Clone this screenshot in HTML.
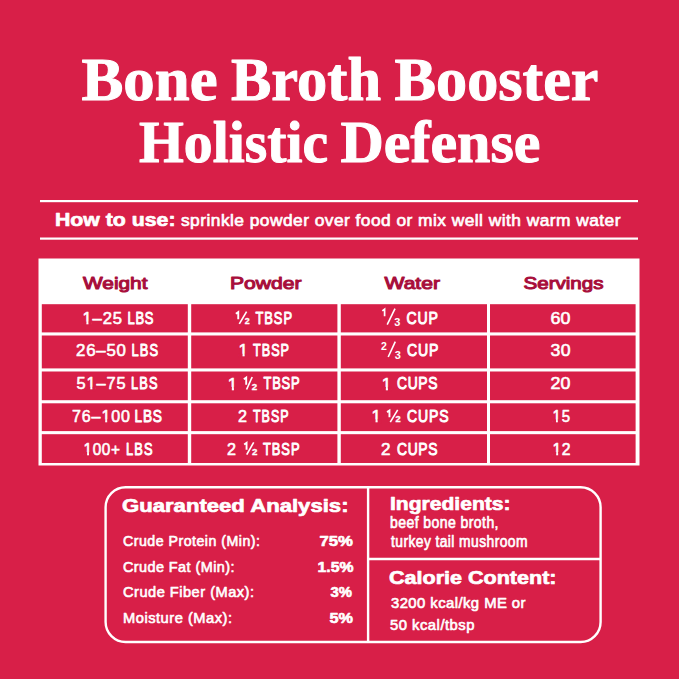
<!DOCTYPE html>
<html>
<head>
<meta charset="utf-8">
<style>
html,body{margin:0;padding:0;background:#D81F48;width:679px;height:679px;overflow:hidden}
svg{display:block}
</style>
</head>
<body>
<svg width="679" height="679" viewBox="0 0 679 679">
<rect width="679" height="679" fill="#D81F48"/>
<rect x="40" y="200" width="598" height="2.2" fill="#fff"/>
<rect x="40" y="237.5" width="598" height="2.2" fill="#fff"/>
<rect x="38.5" y="258.5" width="601" height="207" fill="#fff"/>
<g fill="#D81F48">
<rect x="41.8" y="304.2" width="146" height="28.2"/>
<rect x="191.2" y="304.2" width="146.2" height="28.2"/>
<rect x="340.8" y="304.2" width="146.2" height="28.2"/>
<rect x="490" y="304.2" width="145.6" height="28.2"/>
<rect x="41.8" y="335.5" width="146" height="32.9"/>
<rect x="191.2" y="335.5" width="146.2" height="32.9"/>
<rect x="340.8" y="335.5" width="146.2" height="32.9"/>
<rect x="490" y="335.5" width="145.6" height="32.9"/>
<rect x="41.8" y="371.5" width="146" height="28.7"/>
<rect x="191.2" y="371.5" width="146.2" height="28.7"/>
<rect x="340.8" y="371.5" width="146.2" height="28.7"/>
<rect x="490" y="371.5" width="145.6" height="28.7"/>
<rect x="41.8" y="403.3" width="146" height="27.8"/>
<rect x="191.2" y="403.3" width="146.2" height="27.8"/>
<rect x="340.8" y="403.3" width="146.2" height="27.8"/>
<rect x="490" y="403.3" width="145.6" height="27.8"/>
<rect x="41.8" y="434.2" width="146" height="28.8"/>
<rect x="191.2" y="434.2" width="146.2" height="28.8"/>
<rect x="340.8" y="434.2" width="146.2" height="28.8"/>
<rect x="490" y="434.2" width="145.6" height="28.8"/>
</g>
<g fill="none" stroke="#fff" stroke-width="2.4">
<rect x="105.6" y="487.3" width="495" height="154.7" rx="20" ry="20"/>
<line x1="368.1" y1="487.3" x2="368.1" y2="642"/>
<line x1="368.1" y1="559" x2="600.6" y2="559"/>
</g>
<text x="149.50" y="100.3" text-anchor="middle" font-family='"Liberation Serif",serif' font-weight="bold" font-size="61" fill="#fff" stroke="#fff" stroke-width="1.0" stroke-linejoin="round" textLength="136.00" lengthAdjust="spacingAndGlyphs">Bone</text>
<text x="306.00" y="100.3" text-anchor="middle" font-family='"Liberation Serif",serif' font-weight="bold" font-size="61" fill="#fff" stroke="#fff" stroke-width="1.0" stroke-linejoin="round" textLength="150.00" lengthAdjust="spacingAndGlyphs">Broth</text>
<text x="496.50" y="100.3" text-anchor="middle" font-family='"Liberation Serif",serif' font-weight="bold" font-size="61" fill="#fff" stroke="#fff" stroke-width="1.0" stroke-linejoin="round" textLength="204.00" lengthAdjust="spacingAndGlyphs">Booster</text>
<text x="233.50" y="161.7" text-anchor="middle" font-family='"Liberation Serif",serif' font-weight="bold" font-size="58.3" fill="#fff" stroke="#fff" stroke-width="1.0" stroke-linejoin="round" textLength="189.00" lengthAdjust="spacingAndGlyphs">Holistic</text>
<text x="440.50" y="161.7" text-anchor="middle" font-family='"Liberation Serif",serif' font-weight="bold" font-size="58.3" fill="#fff" stroke="#fff" stroke-width="1.0" stroke-linejoin="round" textLength="200.00" lengthAdjust="spacingAndGlyphs">Defense</text>
<text x="115.25" y="226.2" text-anchor="middle" font-family='"Liberation Sans",sans-serif' font-weight="bold" font-size="19.1" fill="#fff" stroke="#fff" stroke-width="0.7" stroke-linejoin="round" textLength="120.50" lengthAdjust="spacingAndGlyphs">How to use:</text>
<text x="400.75" y="226.5" text-anchor="middle" font-family='"Liberation Sans",sans-serif' font-weight="normal" font-size="16.5" fill="#fff" stroke="#fff" stroke-width="0.65" stroke-linejoin="round" transform="translate(400.75 0) scale(1.053 1) translate(-400.75 0)" textLength="417.38" lengthAdjust="spacing">sprinkle powder over food or mix well with warm water</text>
<text x="115.25" y="289.0" text-anchor="middle" font-family='"Liberation Sans",sans-serif' font-weight="normal" font-size="16.6" fill="#A80E3B" stroke="#A80E3B" stroke-width="1.0" stroke-linejoin="round" textLength="64.50" lengthAdjust="spacingAndGlyphs">Weight</text>
<text x="265.75" y="289.0" text-anchor="middle" font-family='"Liberation Sans",sans-serif' font-weight="normal" font-size="16.6" fill="#A80E3B" stroke="#A80E3B" stroke-width="1.0" stroke-linejoin="round" textLength="71.50" lengthAdjust="spacingAndGlyphs">Powder</text>
<text x="412.25" y="289.0" text-anchor="middle" font-family='"Liberation Sans",sans-serif' font-weight="normal" font-size="16.6" fill="#A80E3B" stroke="#A80E3B" stroke-width="1.0" stroke-linejoin="round" textLength="55.50" lengthAdjust="spacingAndGlyphs">Water</text>
<text x="563.50" y="289.0" text-anchor="middle" font-family='"Liberation Sans",sans-serif' font-weight="normal" font-size="16.6" fill="#A80E3B" stroke="#A80E3B" stroke-width="1.0" stroke-linejoin="round" textLength="80.00" lengthAdjust="spacingAndGlyphs">Servings</text>
<text class="row" x="102.25" y="324.3" text-anchor="middle" font-family='"Liberation Sans",sans-serif' font-weight="normal" font-size="17" fill="#fff" stroke="#fff" stroke-width="0.6" stroke-linejoin="round" transform="translate(102.25 0) scale(0.978 1) translate(-102.25 0)" textLength="40.39" lengthAdjust="spacing">1–25</text>
<text class="row" x="140.50" y="324.3" text-anchor="middle" font-family='"Liberation Sans",sans-serif' font-weight="normal" font-size="17" fill="#fff" stroke="#fff" stroke-width="0.95" stroke-linejoin="round" transform="translate(140.50 0) scale(0.764 1) translate(-140.50 0)" textLength="34.03" lengthAdjust="spacing">LBS</text>
<text class="row" x="101.00" y="356.4" text-anchor="middle" font-family='"Liberation Sans",sans-serif' font-weight="normal" font-size="17" fill="#fff" stroke="#fff" stroke-width="0.6" stroke-linejoin="round" transform="translate(101.00 0) scale(0.992 1) translate(-101.00 0)" textLength="50.40" lengthAdjust="spacing">26–50</text>
<text class="row" x="144.75" y="356.4" text-anchor="middle" font-family='"Liberation Sans",sans-serif' font-weight="normal" font-size="17" fill="#fff" stroke="#fff" stroke-width="0.95" stroke-linejoin="round" transform="translate(144.75 0) scale(0.76 1) translate(-144.75 0)" textLength="34.87" lengthAdjust="spacing">LBS</text>
<text class="row" x="101.00" y="389.5" text-anchor="middle" font-family='"Liberation Sans",sans-serif' font-weight="normal" font-size="17" fill="#fff" stroke="#fff" stroke-width="0.6" stroke-linejoin="round" transform="translate(101.00 0) scale(0.964 1) translate(-101.00 0)" textLength="50.83" lengthAdjust="spacing">51–75</text>
<text class="row" x="144.25" y="389.5" text-anchor="middle" font-family='"Liberation Sans",sans-serif' font-weight="normal" font-size="17" fill="#fff" stroke="#fff" stroke-width="0.95" stroke-linejoin="round" transform="translate(144.25 0) scale(0.754 1) translate(-144.25 0)" textLength="35.15" lengthAdjust="spacing">LBS</text>
<text class="row" x="101.00" y="422" text-anchor="middle" font-family='"Liberation Sans",sans-serif' font-weight="normal" font-size="17" fill="#fff" stroke="#fff" stroke-width="0.6" stroke-linejoin="round" transform="translate(101.00 0) scale(0.945 1) translate(-101.00 0)" textLength="61.38" lengthAdjust="spacing">76–100</text>
<text class="row" x="148.25" y="422" text-anchor="middle" font-family='"Liberation Sans",sans-serif' font-weight="normal" font-size="17" fill="#fff" stroke="#fff" stroke-width="0.95" stroke-linejoin="round" transform="translate(148.25 0) scale(0.806 1) translate(-148.25 0)" textLength="34.12" lengthAdjust="spacing">LBS</text>
<text class="row" x="101.75" y="454.6" text-anchor="middle" font-family='"Liberation Sans",sans-serif' font-weight="normal" font-size="17" fill="#fff" stroke="#fff" stroke-width="0.6" stroke-linejoin="round" transform="translate(101.75 0) scale(0.903 1) translate(-101.75 0)" textLength="40.42" lengthAdjust="spacing">100+</text>
<text class="row" x="139.25" y="454.6" text-anchor="middle" font-family='"Liberation Sans",sans-serif' font-weight="normal" font-size="17" fill="#fff" stroke="#fff" stroke-width="0.95" stroke-linejoin="round" transform="translate(139.25 0) scale(0.754 1) translate(-139.25 0)" textLength="35.15" lengthAdjust="spacing">LBS</text>
<text class="row" x="273.75" y="324.3" text-anchor="middle" font-family='"Liberation Sans",sans-serif' font-weight="normal" font-size="17" fill="#fff" stroke="#fff" stroke-width="0.95" stroke-linejoin="round" transform="translate(273.75 0) scale(0.758 1) translate(-273.75 0)" textLength="48.15" lengthAdjust="spacing">TBSP</text>
<text class="row" x="271.00" y="356.4" text-anchor="middle" font-family='"Liberation Sans",sans-serif' font-weight="normal" font-size="17" fill="#fff" stroke="#fff" stroke-width="0.95" stroke-linejoin="round" transform="translate(271.00 0) scale(0.742 1) translate(-271.00 0)" textLength="48.52" lengthAdjust="spacing">TBSP</text>
<text class="row" x="281.50" y="389.5" text-anchor="middle" font-family='"Liberation Sans",sans-serif' font-weight="normal" font-size="17" fill="#fff" stroke="#fff" stroke-width="0.95" stroke-linejoin="round" transform="translate(281.50 0) scale(0.76 1) translate(-281.50 0)" textLength="47.37" lengthAdjust="spacing">TBSP</text>
<text class="row" x="242.50" y="422" text-anchor="middle" font-family='"Liberation Sans",sans-serif' font-weight="normal" font-size="17" fill="#fff" stroke="#fff" stroke-width="0.6" stroke-linejoin="round" textLength="9.00" lengthAdjust="spacingAndGlyphs">2</text>
<text class="row" x="270.75" y="422" text-anchor="middle" font-family='"Liberation Sans",sans-serif' font-weight="normal" font-size="17" fill="#fff" stroke="#fff" stroke-width="0.95" stroke-linejoin="round" transform="translate(270.75 0) scale(0.731 1) translate(-270.75 0)" textLength="48.56" lengthAdjust="spacing">TBSP</text>
<text class="row" x="231.50" y="454.6" text-anchor="middle" font-family='"Liberation Sans",sans-serif' font-weight="normal" font-size="17" fill="#fff" stroke="#fff" stroke-width="0.6" stroke-linejoin="round" textLength="9.00" lengthAdjust="spacingAndGlyphs">2</text>
<text class="row" x="281.25" y="454.6" text-anchor="middle" font-family='"Liberation Sans",sans-serif' font-weight="normal" font-size="17" fill="#fff" stroke="#fff" stroke-width="0.95" stroke-linejoin="round" transform="translate(281.25 0) scale(0.758 1) translate(-281.25 0)" textLength="48.15" lengthAdjust="spacing">TBSP</text>
<text class="row" x="422.25" y="324.3" text-anchor="middle" font-family='"Liberation Sans",sans-serif' font-weight="normal" font-size="17" fill="#fff" stroke="#fff" stroke-width="0.95" stroke-linejoin="round" transform="translate(422.25 0) scale(0.829 1) translate(-422.25 0)" textLength="38.00" lengthAdjust="spacing">CUP</text>
<text class="row" x="422.75" y="356.4" text-anchor="middle" font-family='"Liberation Sans",sans-serif' font-weight="normal" font-size="17" fill="#fff" stroke="#fff" stroke-width="0.95" stroke-linejoin="round" transform="translate(422.75 0) scale(0.829 1) translate(-422.75 0)" textLength="38.00" lengthAdjust="spacing">CUP</text>
<text class="row" x="417.25" y="389.5" text-anchor="middle" font-family='"Liberation Sans",sans-serif' font-weight="normal" font-size="17" fill="#fff" stroke="#fff" stroke-width="0.95" stroke-linejoin="round" transform="translate(417.25 0) scale(0.817 1) translate(-417.25 0)" textLength="49.57" lengthAdjust="spacing">CUPS</text>
<text class="row" x="427.75" y="422" text-anchor="middle" font-family='"Liberation Sans",sans-serif' font-weight="normal" font-size="17" fill="#fff" stroke="#fff" stroke-width="0.95" stroke-linejoin="round" transform="translate(427.75 0) scale(0.825 1) translate(-427.75 0)" textLength="50.30" lengthAdjust="spacing">CUPS</text>
<text class="row" x="385.75" y="454.6" text-anchor="middle" font-family='"Liberation Sans",sans-serif' font-weight="normal" font-size="17" fill="#fff" stroke="#fff" stroke-width="0.6" stroke-linejoin="round" textLength="9.50" lengthAdjust="spacingAndGlyphs">2</text>
<text class="row" x="417.25" y="454.6" text-anchor="middle" font-family='"Liberation Sans",sans-serif' font-weight="normal" font-size="17" fill="#fff" stroke="#fff" stroke-width="0.95" stroke-linejoin="round" transform="translate(417.25 0) scale(0.817 1) translate(-417.25 0)" textLength="49.57" lengthAdjust="spacing">CUPS</text>
<text class="row" x="560.50" y="324.3" text-anchor="middle" font-family='"Liberation Sans",sans-serif' font-weight="normal" font-size="17" fill="#fff" stroke="#fff" stroke-width="0.6" stroke-linejoin="round" transform="translate(560.50 0) scale(1.051 1) translate(-560.50 0)" textLength="19.03" lengthAdjust="spacing">60</text>
<text class="row" x="560.50" y="356.4" text-anchor="middle" font-family='"Liberation Sans",sans-serif' font-weight="normal" font-size="17" fill="#fff" stroke="#fff" stroke-width="0.6" stroke-linejoin="round" transform="translate(560.50 0) scale(1.039 1) translate(-560.50 0)" textLength="19.25" lengthAdjust="spacing">30</text>
<text class="row" x="560.50" y="389.5" text-anchor="middle" font-family='"Liberation Sans",sans-serif' font-weight="normal" font-size="17" fill="#fff" stroke="#fff" stroke-width="0.6" stroke-linejoin="round" transform="translate(560.50 0) scale(1.051 1) translate(-560.50 0)" textLength="19.03" lengthAdjust="spacing">20</text>
<text class="row" x="561.25" y="422" text-anchor="middle" font-family='"Liberation Sans",sans-serif' font-weight="normal" font-size="17" fill="#fff" stroke="#fff" stroke-width="0.6" stroke-linejoin="round" transform="translate(561.25 0) scale(0.88 1) translate(-561.25 0)" textLength="19.89" lengthAdjust="spacing">15</text>
<text class="row" x="561.50" y="454.6" text-anchor="middle" font-family='"Liberation Sans",sans-serif' font-weight="normal" font-size="17" fill="#fff" stroke="#fff" stroke-width="0.6" stroke-linejoin="round" transform="translate(561.50 0) scale(0.927 1) translate(-561.50 0)" textLength="19.42" lengthAdjust="spacing">12</text>
<text x="235.25" y="512.1" text-anchor="middle" font-family='"Liberation Sans",sans-serif' font-weight="bold" font-size="19.1" fill="#fff" stroke="#fff" stroke-width="0.7" stroke-linejoin="round" textLength="226.50" lengthAdjust="spacingAndGlyphs">Guaranteed Analysis:</text>
<text x="191.50" y="546.5" text-anchor="middle" font-family='"Liberation Sans",sans-serif' font-weight="normal" font-size="15.3" fill="#fff" stroke="#fff" stroke-width="0.65" stroke-linejoin="round" transform="translate(191.50 0) scale(0.927 1) translate(-191.50 0)" textLength="147.79" lengthAdjust="spacing">Crude Protein (Min):</text>
<text x="178.75" y="572" text-anchor="middle" font-family='"Liberation Sans",sans-serif' font-weight="normal" font-size="15.3" fill="#fff" stroke="#fff" stroke-width="0.65" stroke-linejoin="round" transform="translate(178.75 0) scale(0.943 1) translate(-178.75 0)" textLength="118.24" lengthAdjust="spacing">Crude Fat (Min):</text>
<text x="188.50" y="597.4" text-anchor="middle" font-family='"Liberation Sans",sans-serif' font-weight="normal" font-size="15.3" fill="#fff" stroke="#fff" stroke-width="0.65" stroke-linejoin="round" transform="translate(188.50 0) scale(0.956 1) translate(-188.50 0)" textLength="137.03" lengthAdjust="spacing">Crude Fiber (Max):</text>
<text x="177.50" y="622.8" text-anchor="middle" font-family='"Liberation Sans",sans-serif' font-weight="normal" font-size="15.3" fill="#fff" stroke="#fff" stroke-width="0.65" stroke-linejoin="round" transform="translate(177.50 0) scale(0.961 1) translate(-177.50 0)" textLength="113.42" lengthAdjust="spacing">Moisture (Max):</text>
<text x="336.25" y="546.3" text-anchor="middle" font-family='"Liberation Sans",sans-serif' font-weight="bold" font-size="14.8" fill="#fff" stroke="#fff" stroke-width="0.6" stroke-linejoin="round" textLength="33.50" lengthAdjust="spacingAndGlyphs">75%</text>
<text x="335.50" y="572" text-anchor="middle" font-family='"Liberation Sans",sans-serif' font-weight="bold" font-size="14.8" fill="#fff" stroke="#fff" stroke-width="0.6" stroke-linejoin="round" textLength="36.00" lengthAdjust="spacingAndGlyphs">1.5%</text>
<text x="341.25" y="597.4" text-anchor="middle" font-family='"Liberation Sans",sans-serif' font-weight="bold" font-size="14.8" fill="#fff" stroke="#fff" stroke-width="0.6" stroke-linejoin="round" textLength="21.50" lengthAdjust="spacingAndGlyphs">3%</text>
<text x="341.25" y="622.8" text-anchor="middle" font-family='"Liberation Sans",sans-serif' font-weight="bold" font-size="14.8" fill="#fff" stroke="#fff" stroke-width="0.6" stroke-linejoin="round" textLength="23.50" lengthAdjust="spacingAndGlyphs">5%</text>
<text x="450.25" y="510.3" text-anchor="middle" font-family='"Liberation Sans",sans-serif' font-weight="bold" font-size="19.1" fill="#fff" stroke="#fff" stroke-width="0.7" stroke-linejoin="round" textLength="120.50" lengthAdjust="spacingAndGlyphs">Ingredients:</text>
<text x="444.25" y="528.3" text-anchor="middle" font-family='"Liberation Sans",sans-serif' font-weight="normal" font-size="15.6" fill="#fff" stroke="#fff" stroke-width="0.65" stroke-linejoin="round" transform="translate(444.25 0) scale(0.899 1) translate(-444.25 0)" textLength="120.69" lengthAdjust="spacing">beef bone broth,</text>
<text x="459.25" y="547.3" text-anchor="middle" font-family='"Liberation Sans",sans-serif' font-weight="normal" font-size="15.6" fill="#fff" stroke="#fff" stroke-width="0.65" stroke-linejoin="round" transform="translate(459.25 0) scale(0.888 1) translate(-459.25 0)" textLength="153.72" lengthAdjust="spacing">turkey tail mushroom</text>
<text x="472.75" y="584.2" text-anchor="middle" font-family='"Liberation Sans",sans-serif' font-weight="bold" font-size="19.1" fill="#fff" stroke="#fff" stroke-width="0.7" stroke-linejoin="round" textLength="167.50" lengthAdjust="spacingAndGlyphs">Calorie Content:</text>
<text x="458.25" y="608.4" text-anchor="middle" font-family='"Liberation Sans",sans-serif' font-weight="normal" font-size="15.3" fill="#fff" stroke="#fff" stroke-width="0.65" stroke-linejoin="round" transform="translate(458.25 0) scale(0.972 1) translate(-458.25 0)" textLength="138.37" lengthAdjust="spacing">3200 kcal/kg ME or</text>
<text x="432.25" y="630.0" text-anchor="middle" font-family='"Liberation Sans",sans-serif' font-weight="normal" font-size="15.3" fill="#fff" stroke="#fff" stroke-width="0.65" stroke-linejoin="round" transform="translate(432.25 0) scale(0.969 1) translate(-432.25 0)" textLength="87.20" lengthAdjust="spacing">50 kcal/tbsp</text>
<text class="row" x="238.56" y="356.4" font-family='"Liberation Sans",sans-serif' font-weight="normal" font-size="17" fill="#fff" stroke="#fff" stroke-width="0.6">1</text>
<text class="row" x="227.86" y="389.5" font-family='"Liberation Sans",sans-serif' font-weight="normal" font-size="17" fill="#fff" stroke="#fff" stroke-width="0.6">1</text>
<text class="row" x="381.86" y="389.5" font-family='"Liberation Sans",sans-serif' font-weight="normal" font-size="17" fill="#fff" stroke="#fff" stroke-width="0.6">1</text>
<text class="row" x="371.56" y="422" font-family='"Liberation Sans",sans-serif' font-weight="normal" font-size="17" fill="#fff" stroke="#fff" stroke-width="0.6">1</text>
<g fill="#D81F48"><rect x="82.66" y="321.73" width="3.71" height="4.17"/><rect x="88.46" y="321.73" width="3.38" height="4.17"/><rect x="86.63" y="386.93" width="3.66" height="4.17"/><rect x="92.35" y="386.93" width="3.33" height="4.17"/><rect x="101.60" y="419.43" width="3.58" height="4.17"/><rect x="107.20" y="419.43" width="3.26" height="4.17"/><rect x="83.65" y="452.03" width="3.42" height="4.17"/><rect x="89.00" y="452.03" width="3.12" height="4.17"/><rect x="552.64" y="419.43" width="3.34" height="4.17"/><rect x="557.86" y="419.43" width="3.04" height="4.17"/><rect x="552.65" y="452.03" width="3.52" height="4.17"/><rect x="558.15" y="452.03" width="3.20" height="4.17"/><rect x="238.73" y="353.83" width="3.79" height="4.17"/><rect x="244.65" y="353.83" width="3.45" height="4.17"/><rect x="228.03" y="386.93" width="3.79" height="4.17"/><rect x="233.95" y="386.93" width="3.45" height="4.17"/><rect x="382.03" y="386.93" width="3.79" height="4.17"/><rect x="387.95" y="386.93" width="3.45" height="4.17"/><rect x="371.73" y="419.43" width="3.79" height="4.17"/><rect x="377.65" y="419.43" width="3.45" height="4.17"/></g>
<g fill="#fff" font-family='"Liberation Sans",sans-serif' font-weight="bold">
<path d="M384.6 316.3 V309.2 L382.3 310.9" fill="none" stroke="#fff" stroke-width="1.7"/>
<line x1="395" y1="308.6" x2="387.2" y2="324.6" stroke="#fff" stroke-width="1.6"/>
<text x="397.4" y="325.8" font-size="11" text-anchor="middle">3</text>
<text x="383.8" y="349.8" font-size="10.5" text-anchor="middle">2</text>
<line x1="395.3" y1="341.6" x2="388.2" y2="357" stroke="#fff" stroke-width="1.6"/>
<text x="397.8" y="358.6" font-size="11" text-anchor="middle">3</text>
</g><path d="M238.25 319.30 V312.10 L235.85 313.70" fill="none" stroke="#fff" stroke-width="1.9" stroke-linejoin="miter"/><line x1="246.6" y1="311.7" x2="239.3" y2="323.9" stroke="#fff" stroke-width="1.65"/><text x="247.25" y="324.10" font-size="8.86" text-anchor="middle" fill="#fff" font-family='"Liberation Sans",sans-serif' font-weight="bold" stroke="#fff" stroke-width="0.3">2</text><path d="M246.20 384.70 V377.60 L243.80 379.20" fill="none" stroke="#fff" stroke-width="1.9" stroke-linejoin="miter"/><line x1="252.2" y1="377.0" x2="246.6" y2="389.5" stroke="#fff" stroke-width="1.65"/><text x="254.55" y="389.70" font-size="9.71" text-anchor="middle" fill="#fff" font-family='"Liberation Sans",sans-serif' font-weight="bold" stroke="#fff" stroke-width="0.3">2</text><path d="M246.55 449.70 V442.90 L244.15 444.50" fill="none" stroke="#fff" stroke-width="1.9" stroke-linejoin="miter"/><line x1="253.7" y1="442.3" x2="246.7" y2="454.7" stroke="#fff" stroke-width="1.65"/><text x="254.80" y="454.70" font-size="9.71" text-anchor="middle" fill="#fff" font-family='"Liberation Sans",sans-serif' font-weight="bold" stroke="#fff" stroke-width="0.3">2</text><path d="M389.45 417.30 V410.50 L387.05 412.10" fill="none" stroke="#fff" stroke-width="1.9" stroke-linejoin="miter"/><line x1="397.7" y1="409.9" x2="390.3" y2="422.1" stroke="#fff" stroke-width="1.65"/><text x="398.10" y="422.00" font-size="9.29" text-anchor="middle" fill="#fff" font-family='"Liberation Sans",sans-serif' font-weight="bold" stroke="#fff" stroke-width="0.3">2</text>
</svg>
</body>
</html>
